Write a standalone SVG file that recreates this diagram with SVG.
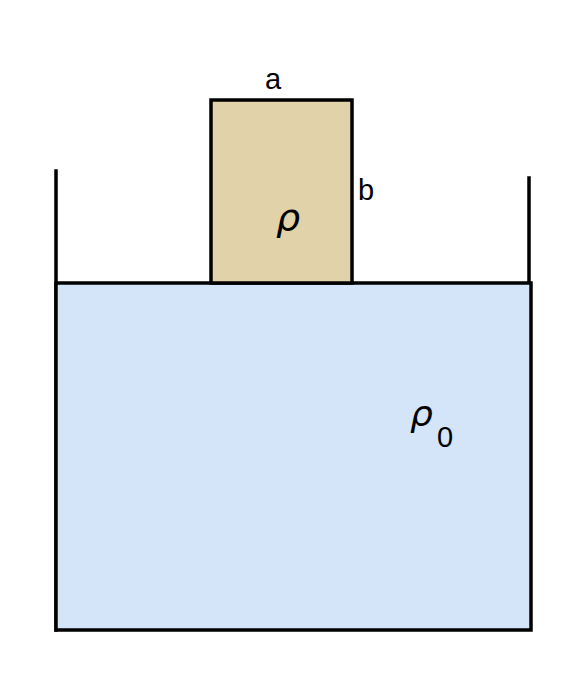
<svg xmlns="http://www.w3.org/2000/svg" width="588" height="686" viewBox="0 0 588 686">
<style>
.ln{stroke:#000;stroke-width:3.5;fill:none;stroke-linecap:square}
.lbl{font-family:"Liberation Sans",Arial,sans-serif;font-size:29px;fill:#000}
.rho{font-family:"DejaVu Sans",sans-serif;font-style:italic;fill:#000}
</style>
<rect width="588" height="686" fill="#fff"/>
<g id="container">
<line class="ln" x1="56" y1="171" x2="56" y2="630"/>
<line class="ln" x1="529" y1="178" x2="529" y2="283"/>
</g>
<g id="water">
<rect x="56" y="283" width="475" height="347" fill="#d4e4f9" stroke="#000" stroke-width="3.5"/>
<text class="rho" x="410" y="426" font-size="36">ρ</text>
<text class="lbl" x="437" y="447" font-size="20">0</text>
</g>
<g id="block">
<rect x="211" y="100" width="141" height="183" fill="#e2d2a9" stroke="#000" stroke-width="3.5"/>
<text class="rho" x="276" y="230" font-size="38">ρ</text>
</g>
<g id="labels">
<text class="lbl" x="273" y="89" text-anchor="middle">a</text>
<text class="lbl" x="358" y="200">b</text>
</g>
</svg>
